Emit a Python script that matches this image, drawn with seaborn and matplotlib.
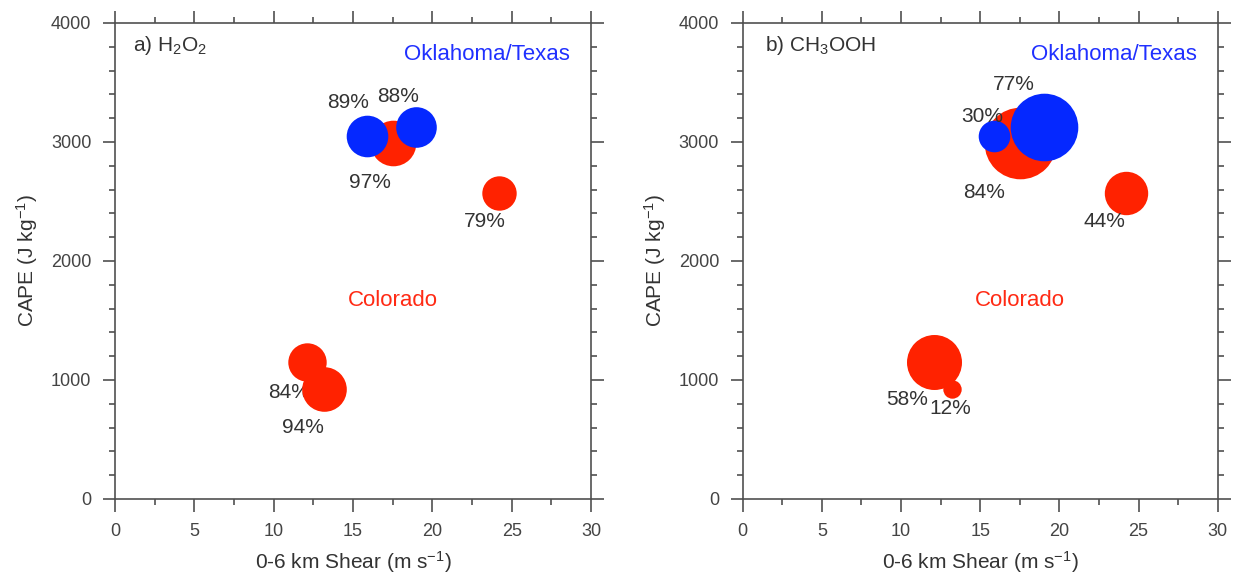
import matplotlib
matplotlib.use("Agg")
import matplotlib.pyplot as plt
from matplotlib.ticker import MultipleLocator
import seaborn as sns
import pandas as pd

# ---------------- data ----------------
# 0-6 km shear (m s-1) and CAPE (J kg-1) of each storm case
colorado_shear = [12.1, 13.2, 17.5, 24.2]
colorado_cape = [1150, 922, 2988, 2570]
oktx_shear = [15.9, 19.0]
oktx_cape = [3053, 3122]

# panel a) H2O2 : scavenging efficiency labels and bubble magnitude
h2o2_colorado_pct = ["84%", "94%", "97%", "79%"]
h2o2_oktx_pct = ["89%", "88%"]
h2o2_colorado_bubble = [19.2, 22.3, 22.8, 17.2]
h2o2_oktx_bubble = [20.8, 20.3]

# panel b) CH3OOH
ch3ooh_colorado_pct = ["58%", "12%", "84%", "44%"]
ch3ooh_oktx_pct = ["30%", "77%"]
ch3ooh_colorado_bubble = [27.5, 9.2, 35.8, 21.7]
ch3ooh_oktx_bubble = [15.8, 33.8]

x_ticks = [0, 5, 10, 15, 20, 25, 30]
y_ticks = [0, 1000, 2000, 3000, 4000]

# ---------------- layout / style ----------------
DPI = 100
RED = "#ff2200"
BLUE = "#0528ff"
AX_COL = "#505050"
TXT_COL = "#333333"

# label offsets in pixels (dx, dy) relative to bubble centres
h2o2_colorado_off = [(-18, -30), (-22, -38), (-23, -39), (-14, -28)]
h2o2_oktx_off = [(-19, 33), (-18, 31)]
ch3ooh_colorado_off = [(-27, -37), (-1, -19), (-36, -49), (-21, -28)]
ch3ooh_oktx_off = [(-12, 19), (-30, 43)]

sns.set_style("ticks")
plt.rcParams["font.family"] = ["Liberation Sans", "DejaVu Sans"]
plt.rcParams["mathtext.fontset"] = "custom"
plt.rcParams["mathtext.rm"] = "Liberation Sans"
plt.rcParams["mathtext.it"] = "Liberation Sans:italic"
plt.rcParams["mathtext.bf"] = "Liberation Sans:bold"

fig = plt.figure(figsize=(12.38, 5.76), dpi=DPI)
ax_a = fig.add_axes([0.0929, 0.1337, 0.3845, 0.8264])
ax_b = fig.add_axes([0.5999, 0.1337, 0.3837, 0.8264])


def r_to_s(r):
    d_pt = 2 * r * 72.0 / DPI
    return d_pt ** 2


def draw_panel(ax, title, title_x, c_pct, o_pct, c_bub, o_bub, c_off, o_off):
    groups = [
        (colorado_shear, colorado_cape, c_pct, c_bub, c_off, RED),
        (oktx_shear, oktx_cape, o_pct, o_bub, o_off, BLUE),
    ]
    z = 2
    for xs, ys, pcts, bubs, offs, col in groups:
        for x, y, p, b, off in zip(xs, ys, pcts, bubs, offs):
            df = pd.DataFrame({"shear": [x], "cape": [y]})
            sns.scatterplot(data=df, x="shear", y="cape", ax=ax, s=r_to_s(b),
                            color=col, linewidth=0, legend=False, zorder=z,
                            alpha=1)
            ax.annotate(p, xy=(x, y), xytext=off, textcoords="offset pixels",
                        ha="center", va="center", fontsize=15, color=TXT_COL,
                        zorder=z + 1)
            z += 2

    ax.set_xlim(0, 30)
    ax.set_ylim(0, 4000)
    ax.set_xticks(x_ticks)
    ax.set_yticks(y_ticks)
    ax.xaxis.set_minor_locator(MultipleLocator(2.5))
    ax.yaxis.set_minor_locator(MultipleLocator(200))
    ax.tick_params(which="both", direction="out", top=True, right=True,
                   labeltop=False, labelright=False, color=AX_COL, width=1.2,
                   labelsize=13, labelcolor="#444444", pad=8)
    ax.tick_params(which="major", length=9)
    ax.tick_params(which="minor", length=4.2)
    for sp in ax.spines.values():
        sp.set_visible(True)
        sp.set_color(AX_COL)
        sp.set_linewidth(1.2)

    ax.set_xlabel(r"0-6 km Shear (m s$^{\mathregular{-1}}$)", fontsize=15,
                  color=TXT_COL)
    ax.set_ylabel(r"CAPE (J kg$^{\mathregular{-1}}$)", fontsize=15,
                  color=TXT_COL)
    ax.xaxis.set_label_coords(0.5, -0.105)
    ax.yaxis.set_label_coords(-0.158, 0.5)

    ax.text(title_x, 0.952, title, transform=ax.transAxes, ha="left",
            va="center", fontsize=15, color=TXT_COL)
    ax.text(0.782, 0.933, "Oklahoma/Texas", transform=ax.transAxes,
            ha="center", va="center", fontsize=16, color="#2030ff")
    ax.text(0.583, 0.418, "Colorado", transform=ax.transAxes,
            ha="center", va="center", fontsize=16, color="#ff2a14")


draw_panel(ax_a, r"a) H$_\mathregular{2}$O$_\mathregular{2}$", 0.038,
           h2o2_colorado_pct, h2o2_oktx_pct,
           h2o2_colorado_bubble, h2o2_oktx_bubble,
           h2o2_colorado_off, h2o2_oktx_off)
draw_panel(ax_b, r"b) CH$_\mathregular{3}$OOH", 0.047,
           ch3ooh_colorado_pct, ch3ooh_oktx_pct,
           ch3ooh_colorado_bubble, ch3ooh_oktx_bubble,
           ch3ooh_colorado_off, ch3ooh_oktx_off)

fig.savefig("out.png", dpi=DPI, facecolor="white")
